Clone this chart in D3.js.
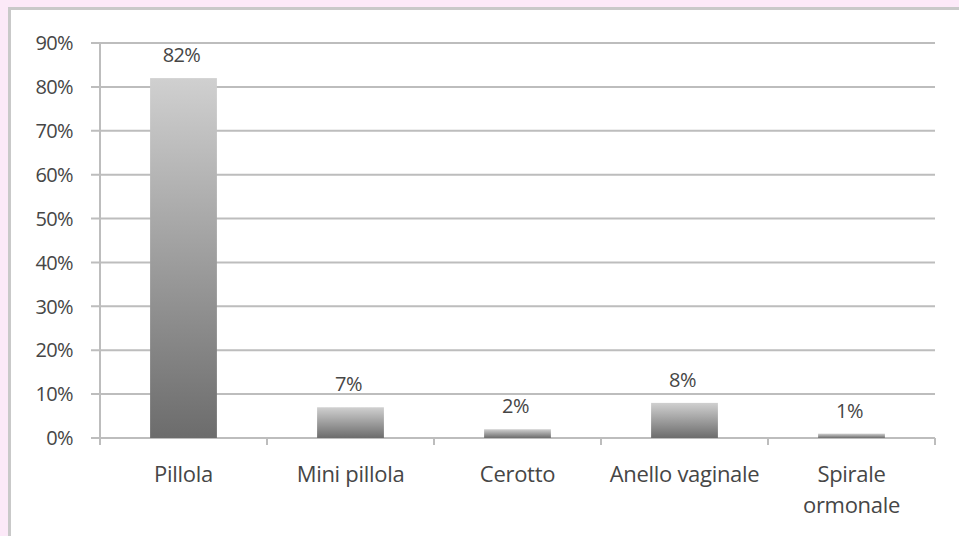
<!DOCTYPE html>
<html>
<head>
<meta charset="utf-8">
<script src="https://cdn.jsdelivr.net/npm/d3@7"></script>
<style>
  body { margin: 0; background: #fce9f8; }
  svg { display: block; }
  text { font-family: "Open Sans", Lato, sans-serif; fill: #464646; }
</style>
</head>
<body>
<div id="chart"></div>
<script>
    var categories = ["Pillola", "Mini pillola", "Cerotto", "Anello vaginale", "Spirale ormonale"];
    var values = [82, 7, 2, 8, 1];
    var yTicks = [0, 10, 20, 30, 40, 50, 60, 70, 80, 90];

    var W = 959, H = 536;
    var margin = { top: 43, left: 100, right: 24, bottom: 98 };
    var width = W - margin.left - margin.right,
        height = H - margin.top - margin.bottom;

    var root = d3.select("#chart").append("svg")
        .attr("width", W)
        .attr("height", H);

    // white chart area with gray frame
    root.append("rect")
        .attr("x", 9.5).attr("y", 8.5)
        .attr("width", W).attr("height", H + 2)
        .attr("fill", "#fff")
        .attr("stroke", "#c9c9c9")
        .attr("stroke-width", 3);

    var defs = root.append("defs");
    var grad = defs.append("linearGradient")
        .attr("id", "barGrad")
        .attr("x1", 0).attr("y1", 0).attr("x2", 0).attr("y2", 1);
    grad.append("stop").attr("offset", "0%").attr("stop-color", "#d0d0d0");
    grad.append("stop").attr("offset", "100%").attr("stop-color", "#6c6c6c");

    var svg = root.append("g")
        .attr("transform", "translate(" + margin.left + "," + margin.top + ")");

    var x = d3.scaleBand().domain(categories).range([0, width]).paddingInner(0.6).paddingOuter(0.3);
    var xb = d3.scaleBand().domain(categories).range([0, width]);
    var y = d3.scaleLinear().domain([0, 90]).range([height, 0]);

    // gridlines
    svg.selectAll("line.grid")
        .data(yTicks)
        .enter()
        .append("line")
        .attr("class", "grid")
        .attr("x1", -9).attr("x2", width)
        .attr("y1", function(d) { return y(d); })
        .attr("y2", function(d) { return y(d); })
        .attr("stroke", "#bdbdbd")
        .attr("stroke-width", 2);

    // y axis line
    svg.append("line")
        .attr("x1", 0).attr("x2", 0)
        .attr("y1", 0).attr("y2", height)
        .attr("stroke", "#bdbdbd")
        .attr("stroke-width", 2);

    // y labels
    svg.selectAll("text.ylab")
        .data(yTicks)
        .enter()
        .append("text")
        .attr("class", "ylab")
        .attr("x", -27)
        .attr("y", function(d) { return y(d); })
        .attr("dy", "0.36em")
        .attr("text-anchor", "end")
        .style("font-size", "20px")
        .style("letter-spacing", "-0.6px")
        .text(function(d) { return d + "%"; });

    // x tick marks at band boundaries
    var bounds = categories.map(function(c) { return xb(c); }).concat([width]);
    svg.selectAll("line.xtick")
        .data(bounds)
        .enter()
        .append("line")
        .attr("class", "xtick")
        .attr("x1", function(d) { return d; })
        .attr("x2", function(d) { return d; })
        .attr("y1", height).attr("y2", height + 7)
        .attr("stroke", "#bdbdbd")
        .attr("stroke-width", 2);

    // bars
    svg.selectAll("rect.bar")
        .data(values)
        .enter()
        .append("rect")
        .attr("class", "bar")
        .attr("x", function(d, i) { return x(categories[i]); })
        .attr("y", function(d) { return y(d); })
        .attr("width", x.bandwidth())
        .attr("height", function(d) { return height - y(d); })
        .attr("fill", "url(#barGrad)");

    // value labels
    svg.selectAll("text.val")
        .data(values)
        .enter()
        .append("text")
        .attr("class", "val")
        .attr("x", function(d, i) { return x(categories[i]) + x.bandwidth() / 2 - 2; })
        .attr("y", function(d) { return y(d) - 16; })
        .attr("text-anchor", "middle")
        .style("font-size", "20px")
        .style("letter-spacing", "-0.6px")
        .text(function(d) { return d + "%"; });

    // category labels (wrap long ones)
    var catLabels = svg.selectAll("text.cat")
        .data(categories)
        .enter()
        .append("text")
        .attr("class", "cat")
        .attr("x", function(d) { return xb(d) + xb.bandwidth() / 2; })
        .attr("y", height + 44)
        .attr("text-anchor", "middle")
        .style("font-size", "22px")
        .style("letter-spacing", "-0.3px");

    catLabels.each(function(d) {
        var parts = d === "Spirale ormonale" ? ["Spirale", "ormonale"] : [d];
        var t = d3.select(this);
        parts.forEach(function(p, k) {
            t.append("tspan")
                .attr("x", xb(d) + xb.bandwidth() / 2)
                .attr("dy", k === 0 ? 0 : 31)
                .text(p);
        });
    });
</script>
</body>
</html>
